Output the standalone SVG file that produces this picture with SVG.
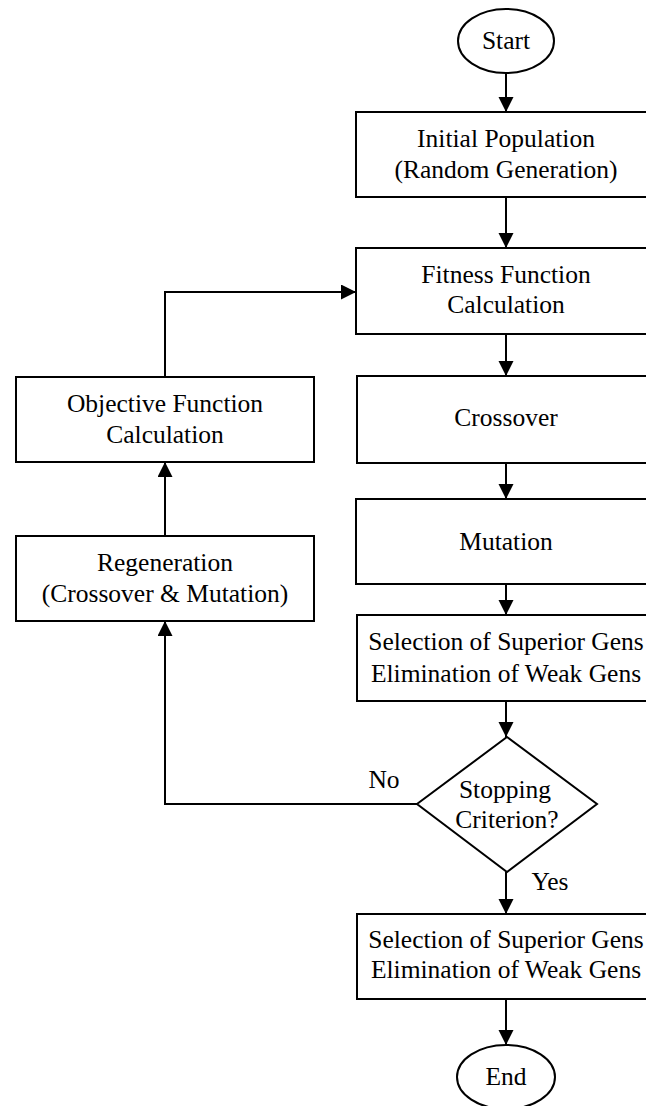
<svg xmlns="http://www.w3.org/2000/svg" width="646" height="1106" viewBox="0 0 646 1106">
<defs>
<style>
.n{fill:#fff;stroke:#000;stroke-width:2}
.t{font-family:"Liberation Serif","Times New Roman",serif;font-size:25.5px;fill:#000;text-anchor:middle}
.c{fill:none;stroke:#000;stroke-width:2}
</style>
<marker id="ah" markerUnits="userSpaceOnUse" markerWidth="16" markerHeight="16" refX="15" refY="7.5" orient="auto">
<path d="M0,0 L15,7.5 L0,15 z" fill="#000"/>
</marker>
</defs>
<rect width="646" height="1106" fill="#fff"/>
<g id="connectors">
<line class="c" x1="506" y1="73" x2="506" y2="112" marker-end="url(#ah)"/>
<line class="c" x1="506" y1="197" x2="506" y2="248" marker-end="url(#ah)"/>
<line class="c" x1="506" y1="334" x2="506" y2="376" marker-end="url(#ah)"/>
<line class="c" x1="506" y1="463" x2="506" y2="499" marker-end="url(#ah)"/>
<line class="c" x1="506" y1="584" x2="506" y2="615" marker-end="url(#ah)"/>
<line class="c" x1="506" y1="701" x2="506" y2="737" marker-end="url(#ah)"/>
<line class="c" x1="506" y1="872" x2="506" y2="914" marker-end="url(#ah)"/>
<line class="c" x1="506" y1="999" x2="506" y2="1045" marker-end="url(#ah)"/>
<polyline class="c" points="417,804 165,804 165,621" marker-end="url(#ah)"/>
<line class="c" x1="165" y1="536" x2="165" y2="462" marker-end="url(#ah)"/>
<polyline class="c" points="165,377 165,292 356,292" marker-end="url(#ah)"/>
<text class="t" x="384" y="788">No</text>
<text class="t" x="550" y="890">Yes</text>
</g>
<g id="start"><ellipse class="n" cx="506" cy="41" rx="48" ry="32"/><text class="t" x="506" y="49">Start</text></g>
<g id="init"><rect class="n" x="356" y="112" width="300" height="85"/><text class="t" x="506" y="147">Initial Population</text><text class="t" x="506" y="178">(Random Generation)</text></g>
<g id="fitness"><rect class="n" x="356" y="248" width="300" height="86"/><text class="t" x="506" y="283">Fitness Function</text><text class="t" x="506" y="313">Calculation</text></g>
<g id="crossover"><rect class="n" x="357" y="376" width="300" height="87"/><text class="t" x="506" y="426">Crossover</text></g>
<g id="mutation"><rect class="n" x="356" y="499" width="300" height="85"/><text class="t" x="506" y="550">Mutation</text></g>
<g id="select1"><rect class="n" x="357" y="615" width="300" height="86"/><text class="t" x="506" y="650">Selection of Superior Gens</text><text class="t" x="506" y="682">Elimination of Weak Gens</text></g>
<g id="decision"><polygon class="n" points="507,737 597,804 507,872 417,804"/><text class="t" x="505" y="798">Stopping</text><text class="t" x="507" y="828">Criterion?</text></g>
<g id="select2"><rect class="n" x="357" y="914" width="300" height="85"/><text class="t" x="506" y="948">Selection of Superior Gens</text><text class="t" x="506" y="978">Elimination of Weak Gens</text></g>
<g id="end"><ellipse class="n" cx="506" cy="1077" rx="49" ry="32"/><text class="t" x="506" y="1085">End</text></g>
<g id="objective"><rect class="n" x="16" y="377" width="298" height="85"/><text class="t" x="165" y="412">Objective Function</text><text class="t" x="165" y="443">Calculation</text></g>
<g id="regen"><rect class="n" x="16" y="536" width="298" height="85"/><text class="t" x="165" y="571">Regeneration</text><text class="t" x="165" y="602">(Crossover &amp; Mutation)</text></g>
</svg>
